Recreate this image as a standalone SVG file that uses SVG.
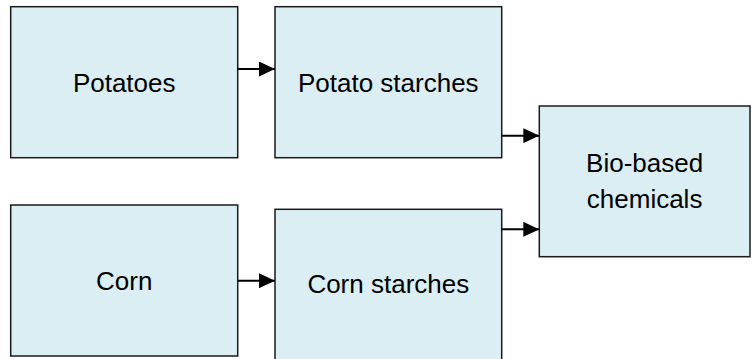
<svg xmlns="http://www.w3.org/2000/svg" width="755" height="359" viewBox="0 0 755 359">
<style>
.box{fill:#DAEEF3;stroke:#1a1a1a;stroke-width:1.5}
.lbl{font-family:"Liberation Sans",Arial,sans-serif;font-size:26px;fill:#000;text-anchor:middle}
.con{stroke:#000;stroke-width:2;fill:none}
</style>
<defs>
<marker id="ah" viewBox="0 0 16 15" refX="16" refY="7.5" markerWidth="16" markerHeight="15" markerUnits="userSpaceOnUse" orient="auto">
<path d="M0,0 L16,7.5 L0,15 Z" fill="#000"/>
</marker>
</defs>
<rect width="755" height="359" fill="#fff"/>
<g id="potatoes"><rect class="box" x="10.7" y="6.7" width="227" height="151"/><text class="lbl" x="124.2" y="91.5">Potatoes</text></g>
<g id="potato-starches"><rect class="box" x="275" y="6.7" width="226.7" height="151"/><text class="lbl" x="388.3" y="91.5">Potato starches</text></g>
<g id="corn"><rect class="box" x="10.7" y="205" width="227" height="151"/><text class="lbl" x="124.2" y="290">Corn</text></g>
<g id="corn-starches"><rect class="box" x="275" y="209.3" width="226.7" height="151"/><text class="lbl" x="388.3" y="293.3">Corn starches</text></g>
<g id="bio-based-chemicals"><rect class="box" x="539.3" y="106" width="210.7" height="150.7"/><text class="lbl" x="644.6" y="171.7">Bio-based</text><text class="lbl" x="644.6" y="208.3">chemicals</text></g>
<g id="connectors">
<line class="con" x1="237.7" y1="69" x2="275" y2="69" marker-end="url(#ah)"/>
<line class="con" x1="237.7" y1="280.7" x2="275" y2="280.7" marker-end="url(#ah)"/>
<line class="con" x1="501.7" y1="135.7" x2="539.3" y2="135.7" marker-end="url(#ah)"/>
<line class="con" x1="501.7" y1="229.3" x2="539.3" y2="229.3" marker-end="url(#ah)"/>
</g>
</svg>
